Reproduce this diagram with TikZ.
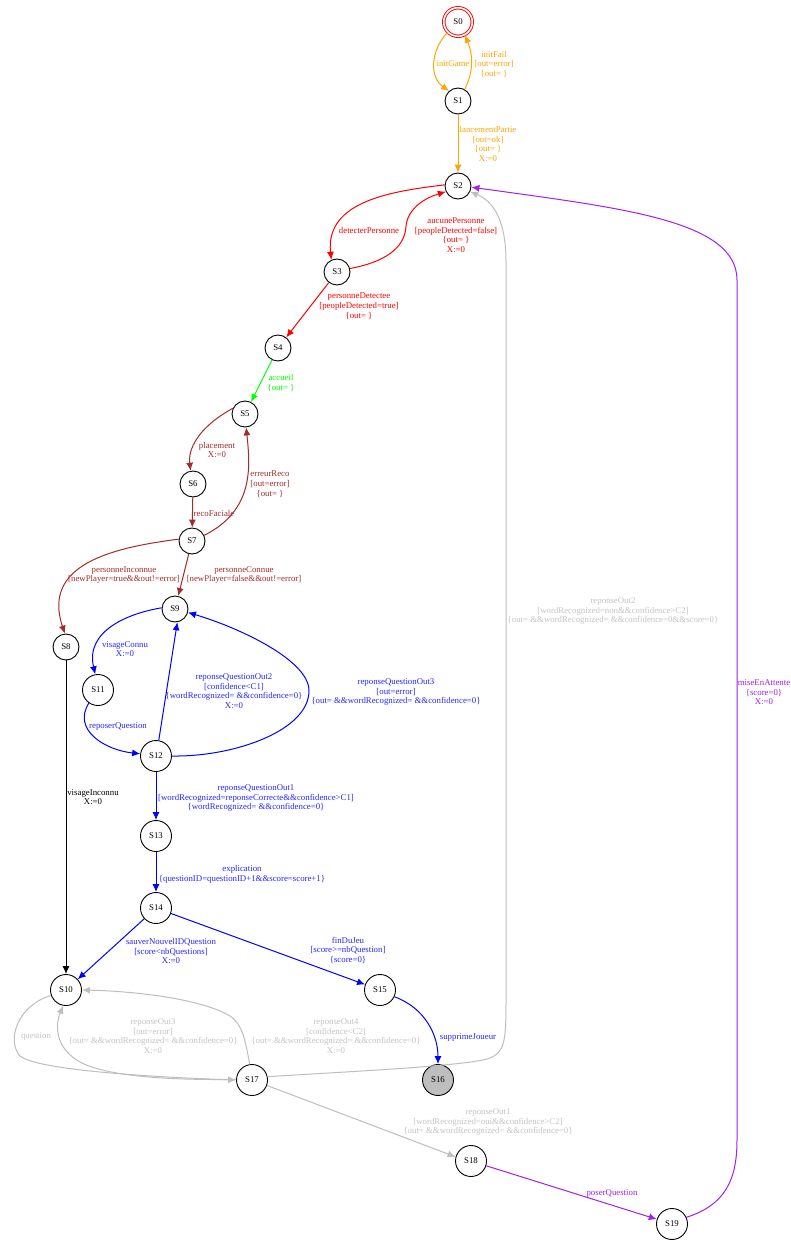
\documentclass[tikz,border=0pt]{standalone}
\usepackage{fontspec}
\setmainfont{Liberation Serif}
\usetikzlibrary{arrows.meta}
\definecolor{cOrange}{HTML}{FFA500}
\definecolor{cBrown}{HTML}{A52A2A}
\definecolor{cPurple}{HTML}{A020F0}
\definecolor{cGrey}{HTML}{BEBEBE}
\definecolor{cLabel}{HTML}{C4C4C4}
\tikzset{
 x=1pt,y=-1pt,
 st/.style={circle,draw=black,line width=.9pt,inner sep=0pt,minimum size=26pt,font=\fontsize{8.8}{10}\selectfont},
 big/.style={st,minimum size=31pt},
 tr/.style={line width=1pt,-{Latex[length=8pt,width=7pt]}},
 lb/.style={align=center,inner sep=0pt,yshift=-1.2pt,font=\fontsize{8.8}{9.6}\selectfont},
}
\begin{document}
\begin{tikzpicture}
\useasboundingbox (0,0) rectangle (791,1241);
\fill[white] (0,0) rectangle (791,1241);
% states
\node[st,draw=red,double,double distance=1.6pt,minimum size=28.5pt] (S0) at (458,22) {S0};
\node[st] (S1) at (458,101) {S1};
\node[st] (S2) at (458,186) {S2};
\node[st] (S3) at (337,272) {S3};
\node[st] (S4) at (278,348) {S4};
\node[st] (S5) at (245,414) {S5};
\node[st] (S6) at (193,484) {S6};
\node[st] (S7) at (192,541) {S7};
\node[st] (S8) at (66,647) {S8};
\node[st] (S9) at (175,609) {S9};
\node[big] (S10) at (66,990) {S10};
\node[big] (S11) at (98,690) {S11};
\node[big] (S12) at (156,756) {S12};
\node[big] (S13) at (156,836) {S13};
\node[big] (S14) at (156,908) {S14};
\node[big] (S15) at (380,990) {S15};
\node[big,fill=cGrey] (S16) at (438,1080) {S16};
\node[big] (S17) at (252,1080) {S17};
\node[big] (S18) at (471,1161) {S18};
\node[big] (S19) at (672,1224) {S19};
% connectors
\begin{scope}[every path/.append style={tr}]
\draw[cOrange] (S0.225) .. controls (432,48) and (428,76) .. (S1.132);
\draw[cOrange] (S1.60) .. controls (474,70) and (473,55) .. (S0.-62);
\draw[cOrange] (S1) -- (S2);
\draw[red] (S2.175) .. controls (395,191) and (325,200) .. (S3.115);
\draw[red] (S3.15) .. controls (385,262) and (405,248) .. (406,226) .. controls (408,208) and (425,198) .. (S2.205);
\draw[red] (S3) -- (S4);
\draw[green] (S4) -- (S5);
\draw[cBrown] (S5.155) .. controls (197,428) and (188,450) .. (S6.100);
\draw[cBrown] (S6) -- (S7);
\draw[cBrown] (S7.25) .. controls (255,510) and (250,465) .. (S5.-85);
\draw[cBrown] (S7.172) .. controls (110,548) and (42,565) .. (S8.95);
\draw[cBrown] (S7) -- (S9);
\draw[blue] (S9.175) .. controls (130,613) and (85,630) .. (S11.100);
\draw[blue] (S11.-125) .. controls (72,730) and (105,750) .. (S12.172);
\draw[blue] (S12.80) -- (S9.-80);
\draw[blue] (S12.0) .. controls (235,757) and (310,730) .. (309,690) .. controls (308,660) and (240,628) .. (S9.-15);
\draw[blue] (S12) -- (S13);
\draw[blue] (S13) -- (S14);
\draw[blue] (S14) -- (S10);
\draw[blue] (S14) -- (S15);
\draw[blue] (S15.-25) .. controls (425,1008) and (438,1035) .. (S16.90);
\draw[black] (S8) -- (S10);
\draw[cGrey] (S10.200) .. controls (18,1005) and (6,1040) .. (20,1056) .. controls (40,1072) and (180,1078) .. (S17.180);
\draw[cGrey] (S17.178) .. controls (180,1080) and (110,1078) .. (80,1062) .. controls (55,1048) and (55,1025) .. (S10.-100);
\draw[cGrey] (S17.98) .. controls (245,1040) and (243,1025) .. (230,1016) .. controls (200,998) and (130,991) .. (S10.0);
\draw[cGrey] (S17.12) .. controls (340,1072) and (470,1066) .. (490,1058) .. controls (505,1052) and (506,1040) .. (506,1000) -- (506,262) .. controls (506,215) and (490,200) .. (S2.-25);
\draw[cGrey] (S17.-20) -- (S18.165);
\draw[cPurple] (S18) -- (S19);
\draw[cPurple] (S19.25) .. controls (725,1205) and (737,1180) .. (737,1140) -- (737,280) .. controls (737,220) and (620,208) .. (S2.-5);
\end{scope}
% labels
\node[lb,text=cOrange] (l1) at (453,62) {initGame};
\node[lb,text=cOrange] (l2) at (494,63) {initFail\\{}[out=error]\\\{out= \}};
\node[lb,text=cOrange] (l3) at (488,143) {lancementPartie\\{}[out=ok]\\\{out= \}\\X:=0};
\node[lb,text=red] (l4) at (369,229) {detecterPersonne};
\node[lb,text=red] (l5) at (456,234) {aucunePersonne\\{}[peopleDetected=false]\\\{out= \}\\X:=0};
\node[lb,text=red] (l6) at (359,305) {personneDetectee\\{}[peopleDetected=true]\\\{out= \}};
\node[lb,text=green] (l7) at (281,382) {accueil\\\{out= \}};
\node[lb,text=cBrown] (l8) at (217,449) {placement\\X:=0};
\node[lb,text=cBrown] (l9) at (214,512) {recoFaciale};
\node[lb,text=cBrown] (l10) at (270,483) {erreurReco\\{}[out=error]\\\{out= \}};
\node[lb,text=cBrown] (l11) at (124,574) {personneInconnue\\{}[newPlayer=true\&\&out!=error]};
\node[lb,text=cBrown] (l12) at (244,574) {personneConnue\\{}[newPlayer=false\&\&out!=error]};
\node[lb,text=blue!85!white] (l13) at (125,648) {visageConnu\\X:=0};
\node[lb,text=blue!85!white] (l14) at (118,725) {reposerQuestion};
\node[lb,text=blue!85!white] (l15) at (234,690) {reponseQuestionOut2\\{}[confidence<C1]\\\{wordRecognized= \&\&confidence=0\}\\X:=0};
\node[lb,text=blue!85!white] (l16) at (396,691) {reponseQuestionOut3\\{}[out=error]\\\{out= \&\&wordRecognized= \&\&confidence=0\}};
\node[lb,text=blue!85!white] (l17) at (256,797) {reponseQuestionOut1\\{}[wordRecognized=reponseCorrecte\&\&confidence>C1]\\\{wordRecognized= \&\&confidence=0\}};
\node[lb,text=blue!85!white] (l18) at (242,873) {explication\\\{questionID=questionID+1\&\&score=score+1\}};
\node[lb,text=blue!85!white] (l19) at (171,950) {sauverNouvelIDQuestion\\{}[score<nbQuestions]\\X:=0};
\node[lb,text=blue!85!white] (l20) at (348,949) {finDuJeu\\{}[score>=nbQuestion]\\\{score=0\}};
\node[lb,text=blue!85!white] (l21) at (468,1036) {supprimeJoueur};
\node[lb,text=black] (l22) at (93,796) {visageInconnu\\X:=0};
\node[lb,text=cLabel] (l23) at (36,1035) {question};
\node[lb,text=cLabel] (l24) at (153,1035) {reponseOut3\\{}[out=error]\\\{out= \&\&wordRecognized= \&\&confidence=0\}\\X:=0};
\node[lb,text=cLabel] (l25) at (336,1035) {reponseOut4\\{}[confidence<C2]\\\{out= \&\&wordRecognized= \&\&confidence=0\}\\X:=0};
\node[lb,text=cLabel] (l26) at (613,610) {reponseOut2\\{}[wordRecognized=non\&\&confidence>C2]\\\{out= \&\&wordRecognized= \&\&confidence=0\&\&score=0\}};
\node[lb,text=cLabel] (l27) at (488,1121) {reponseOut1\\{}[wordRecognized=oui\&\&confidence>C2]\\\{out= \&\&wordRecognized= \&\&confidence=0\}};
\node[lb,text=cPurple] (l28) at (612,1192) {poserQuestion};
\node[lb,text=cPurple] (l29) at (764,691) {miseEnAttente\\\{score=0\}\\X:=0};
\end{tikzpicture}
\end{document}
